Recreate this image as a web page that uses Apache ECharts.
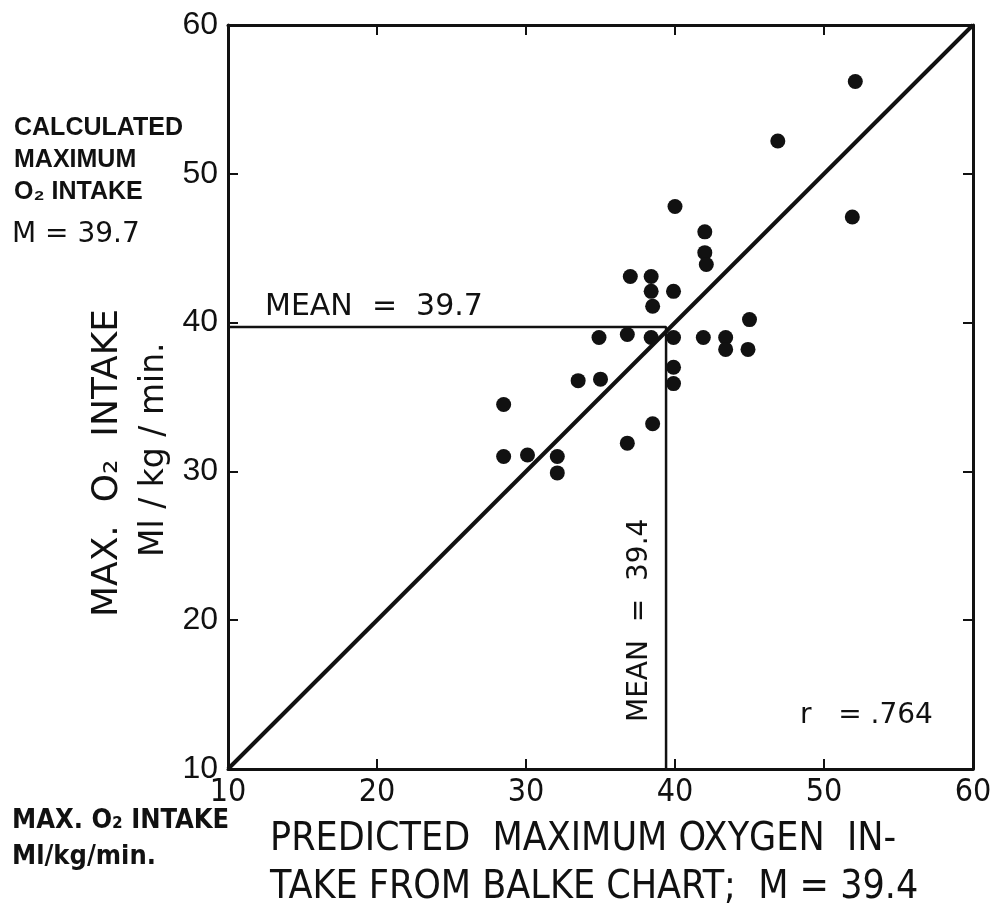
<!DOCTYPE html>
<html>
<head>
<meta charset="utf-8">
<script src="https://cdn.jsdelivr.net/npm/echarts@6/dist/echarts.min.js"></script>
<style>
  html, body { margin: 0; padding: 0; background: #fff; }
  #main { width: 1000px; height: 913px; }
</style>
</head>
<body>
<div id="main"></div>
<script>
// predicted (Balke chart) vs calculated max O2 intake, ml/kg/min
var predicted = [28.5, 28.5, 30.1, 32.1, 32.1, 33.5, 35.0, 34.9, 36.8, 36.8, 37.0, 38.4, 38.4, 38.5, 38.4, 38.5,
  39.9, 39.9, 39.9, 39.9, 40.0, 42.0, 42.0, 42.1, 41.9, 43.4, 43.4, 44.9, 45.0, 46.9, 51.9, 52.1];
var calculated = [34.5, 31.0, 31.1, 31.0, 29.9, 36.1, 36.2, 39.0, 39.2, 31.9, 43.1, 43.1, 42.1, 41.1, 39.0, 33.2,
  42.1, 39.0, 37.0, 35.9, 47.8, 46.1, 44.7, 43.9, 39.0, 39.0, 38.2, 38.2, 40.2, 52.2, 47.1, 56.2];
var meanPredicted = 39.4;
var meanCalculated = 39.7;
var identityLine = [[10, 10], [60, 60]];
var axisTicks = [10, 20, 30, 40, 50, 60];
var rValue = '.764';

var points = predicted.map(function (x, i) { return [x, calculated[i]]; });

var black = '#111';
var mainFont = '"Liberation Sans", "DejaVu Sans", sans-serif';
var wideFont = '"DejaVu Sans", sans-serif';
var condFont = '"DejaVu Sans Condensed", "DejaVu Sans", sans-serif';
var narrowFont = '"Liberation Sans Narrow", "DejaVu Sans Condensed", sans-serif';

var chartDom = document.getElementById('main');
var myChart = echarts.init(chartDom);

var option = {
  backgroundColor: '#fff',
  animation: false,
  grid: { left: 228, right: 27, top: 25, bottom: 144 },
  xAxis: [
    {
      type: 'value', min: axisTicks[0], max: axisTicks[axisTicks.length - 1], interval: 10,
      axisLine: { lineStyle: { color: black, width: 3 } },
      axisTick: { inside: true, length: 10, lineStyle: { color: black, width: 2 } },
      axisLabel: { color: black, fontSize: 32, fontFamily: narrowFont, margin: 8 },
      splitLine: { show: false }
    },
    {
      type: 'value', position: 'top', min: 10, max: 60, interval: 10,
      axisLine: { onZero: false, lineStyle: { color: black, width: 3 } },
      axisTick: { inside: true, length: 10, lineStyle: { color: black, width: 2 } },
      axisLabel: { show: false },
      splitLine: { show: false }
    }
  ],
  yAxis: [
    {
      type: 'value', min: 10, max: 60, interval: 10,
      axisLine: { lineStyle: { color: black, width: 3 } },
      axisTick: { inside: true, length: 10, lineStyle: { color: black, width: 2 } },
      axisLabel: { color: black, fontSize: 32, fontFamily: mainFont, margin: 10 },
      splitLine: { show: false }
    },
    {
      type: 'value', position: 'right', min: 10, max: 60, interval: 10,
      axisLine: { onZero: false, lineStyle: { color: black, width: 3 } },
      axisTick: { inside: true, length: 10, lineStyle: { color: black, width: 2 } },
      axisLabel: { show: false },
      splitLine: { show: false }
    }
  ],
  series: [
    {
      // line of identity
      type: 'line',
      data: identityLine,
      showSymbol: false,
      lineStyle: { color: black, width: 4 },
      z: 3
    },
    {
      // mean lines
      type: 'line',
      data: [[10, meanCalculated], [meanPredicted, meanCalculated], [meanPredicted, 10]],
      showSymbol: false,
      lineStyle: { color: black, width: 2.5 },
      z: 3
    },
    {
      type: 'scatter',
      data: points,
      symbol: 'circle',
      symbolSize: 15,
      itemStyle: { color: black, opacity: 1 },
      z: 4
    }
  ],
  graphic: [
    // annotations inside plot
    { type: 'text', left: 265, top: 292, style: { text: 'MEAN  =  39.7', font: '30px ' + wideFont, fill: black } },
    { type: 'text', x: 626, y: 722, rotation: Math.PI / 2,
      style: { text: 'MEAN  =  39.4', font: '28px ' + wideFont, fill: black } },
    { type: 'text', left: 800, top: 702, style: { text: 'r   = ' + rValue, font: '28px ' + wideFont, fill: black } },
    // y axis title
    { type: 'text', x: 90, y: 617, rotation: Math.PI / 2,
      style: { text: 'MAX.  O₂  INTAKE', font: '36px ' + wideFont, fill: black } },
    { type: 'text', x: 138, y: 557, rotation: Math.PI / 2,
      style: { text: 'Ml / kg / min.', font: '33px ' + wideFont, fill: black } },
    // top-left note
    { type: 'text', left: 14, top: 112,
      style: { text: 'CALCULATED\nMAXIMUM\nO₂ INTAKE', font: 'bold 25px ' + mainFont, lineHeight: 32, fill: black } },
    { type: 'text', left: 12, top: 221, style: { text: 'M = 39.7', font: '28px ' + wideFont, fill: black } },
    // bottom-left note
    { type: 'text', left: 12, top: 803,
      style: { text: 'MAX. O₂ INTAKE\nMl/kg/min.', font: 'bold 27px ' + narrowFont, lineHeight: 36, fill: black } },
    // x axis title
    { type: 'text', left: 270, top: 820,
      style: { text: 'PREDICTED  MAXIMUM OXYGEN  IN-', font: '39px ' + condFont, fill: black } },
    { type: 'text', left: 270, top: 868,
      style: { text: 'TAKE FROM BALKE CHART;  M = 39.4', font: '39px ' + condFont, fill: black } }
  ]
};

option && myChart.setOption(option);
</script>
</body>
</html>
